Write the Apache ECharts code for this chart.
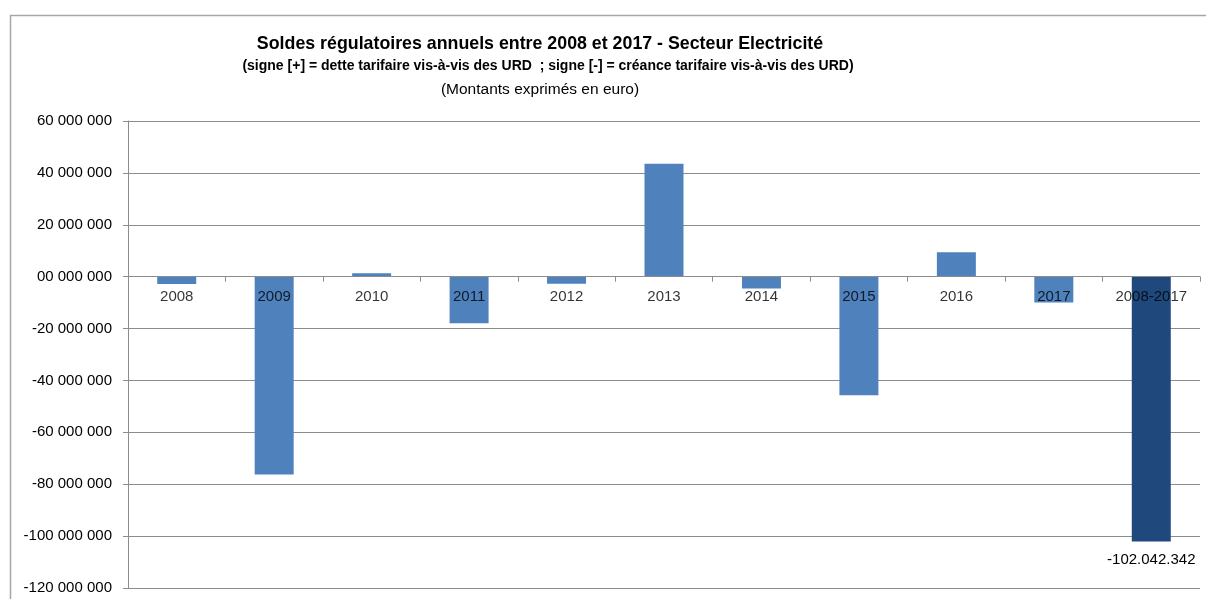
<!DOCTYPE html>
<html>
<head>
<meta charset="utf-8">
<script src="https://cdn.jsdelivr.net/npm/echarts@6/dist/echarts.min.js"></script>
<style>
  html, body { margin: 0; padding: 0; background: #fff; }
  #chart { width: 1206px; height: 599px; }
</style>
</head>
<body>
<div id="chart"></div>
<script>
// Annual regulatory balances (euro), electricity sector
const categories = ['2008', '2009', '2010', '2011', '2012', '2013', '2014', '2015', '2016', '2017', '2008-2017'];
const yearlyBalances = [-2800000, -76300000, 1300000, -18000000, -2700000, 43500000, -4600000, -45700000, 9400000, -10000000];
const cumulativeBalance = -102042342;
const yTicks = { min: -120000000, max: 60000000, step: 20000000 };

const yearColor = '#4F81BD';
const totalColor = '#1F497D';
const gridGray = '#8C8C8C';
const font = '"Liberation Sans", "DejaVu Sans", sans-serif';

function formatAxis(v) {
  if (v === 0) return '00 000 000';
  const sign = v < 0 ? '-' : '';
  return sign + String(Math.abs(v)).replace(/\B(?=(\d{3})+(?!\d))/g, ' ');
}
function formatDotted(v) {
  const sign = v < 0 ? '-' : '';
  return sign + String(Math.abs(v)).replace(/\B(?=(\d{3})+(?!\d))/g, '.');
}

const barData = yearlyBalances.map(v => ({ value: v, itemStyle: { color: yearColor } }));
barData.push({
  value: cumulativeBalance,
  itemStyle: { color: totalColor },
  label: {
    show: true,
    position: 'bottom',
    distance: 11,
    formatter: p => formatDotted(p.value),
    color: '#000',
    fontSize: 15,
    fontFamily: font
  }
});

// category names sit just under the zero line, drawn above the bars
const zeroLine = categories.map(() => 0);

const chart = echarts.init(document.getElementById('chart'), null, { renderer: 'canvas' });
chart.setOption({
  animation: false,
  backgroundColor: '#fff',
  graphic: [{
    type: 'rect',
    shape: { x: 10.5, y: 15.5, width: 1220, height: 620 },
    style: { fill: 'none', stroke: '#A6A6A6', lineWidth: 1.5 },
    silent: true,
    z: -1
  }],
  title: [
    {
      text: 'Soldes régulatoires annuels entre 2008 et 2017 - Secteur Electricité',
      left: 535, top: 30, textAlign: 'center',
      textStyle: { fontFamily: font, fontSize: 17.8, fontWeight: 'bold', color: '#000' }
    },
    {
      text: '(signe [+] = dette tarifaire vis-à-vis des URD  ; signe [-] = créance tarifaire vis-à-vis des URD)',
      left: 543, top: 54, textAlign: 'center',
      textStyle: { fontFamily: font, fontSize: 14, fontWeight: 'bold', color: '#000' }
    },
    {
      text: '(Montants exprimés en euro)',
      left: 535, top: 77, textAlign: 'center',
      textStyle: { fontFamily: font, fontSize: 15.5, fontWeight: 'normal', color: '#000' }
    }
  ],
  grid: { left: 128, right: 6, top: 121, bottom: 11, containLabel: false, outerBoundsMode: 'none' },
  xAxis: {
    type: 'category',
    data: categories,
    z: 5,
    axisLine: { onZero: true, lineStyle: { color: gridGray, width: 1 } },
    axisTick: { show: true, length: 5, interval: 0, lineStyle: { color: gridGray } },
    axisLabel: { show: false }
  },
  yAxis: {
    type: 'value',
    min: yTicks.min,
    max: yTicks.max,
    interval: yTicks.step,
    axisLine: { show: true, lineStyle: { color: gridGray, width: 1 } },
    axisTick: { show: true, length: 5, lineStyle: { color: gridGray } },
    axisLabel: { formatter: formatAxis, margin: 16, color: '#000', fontSize: 15, fontFamily: font },
    splitLine: { show: true, lineStyle: { color: gridGray, width: 1 } }
  },
  series: [
    {
      type: 'bar',
      data: barData,
      barWidth: '40%',
      z: 2
    },
    {
      type: 'scatter',
      data: zeroLine,
      symbolSize: 0,
      silent: true,
      z: 6,
      label: {
        show: true,
        position: 'bottom',
        distance: 13,
        formatter: p => categories[p.dataIndex],
        color: '#000',
        fontSize: 15,
        fontFamily: font
      }
    }
  ]
});
</script>
</body>
</html>
